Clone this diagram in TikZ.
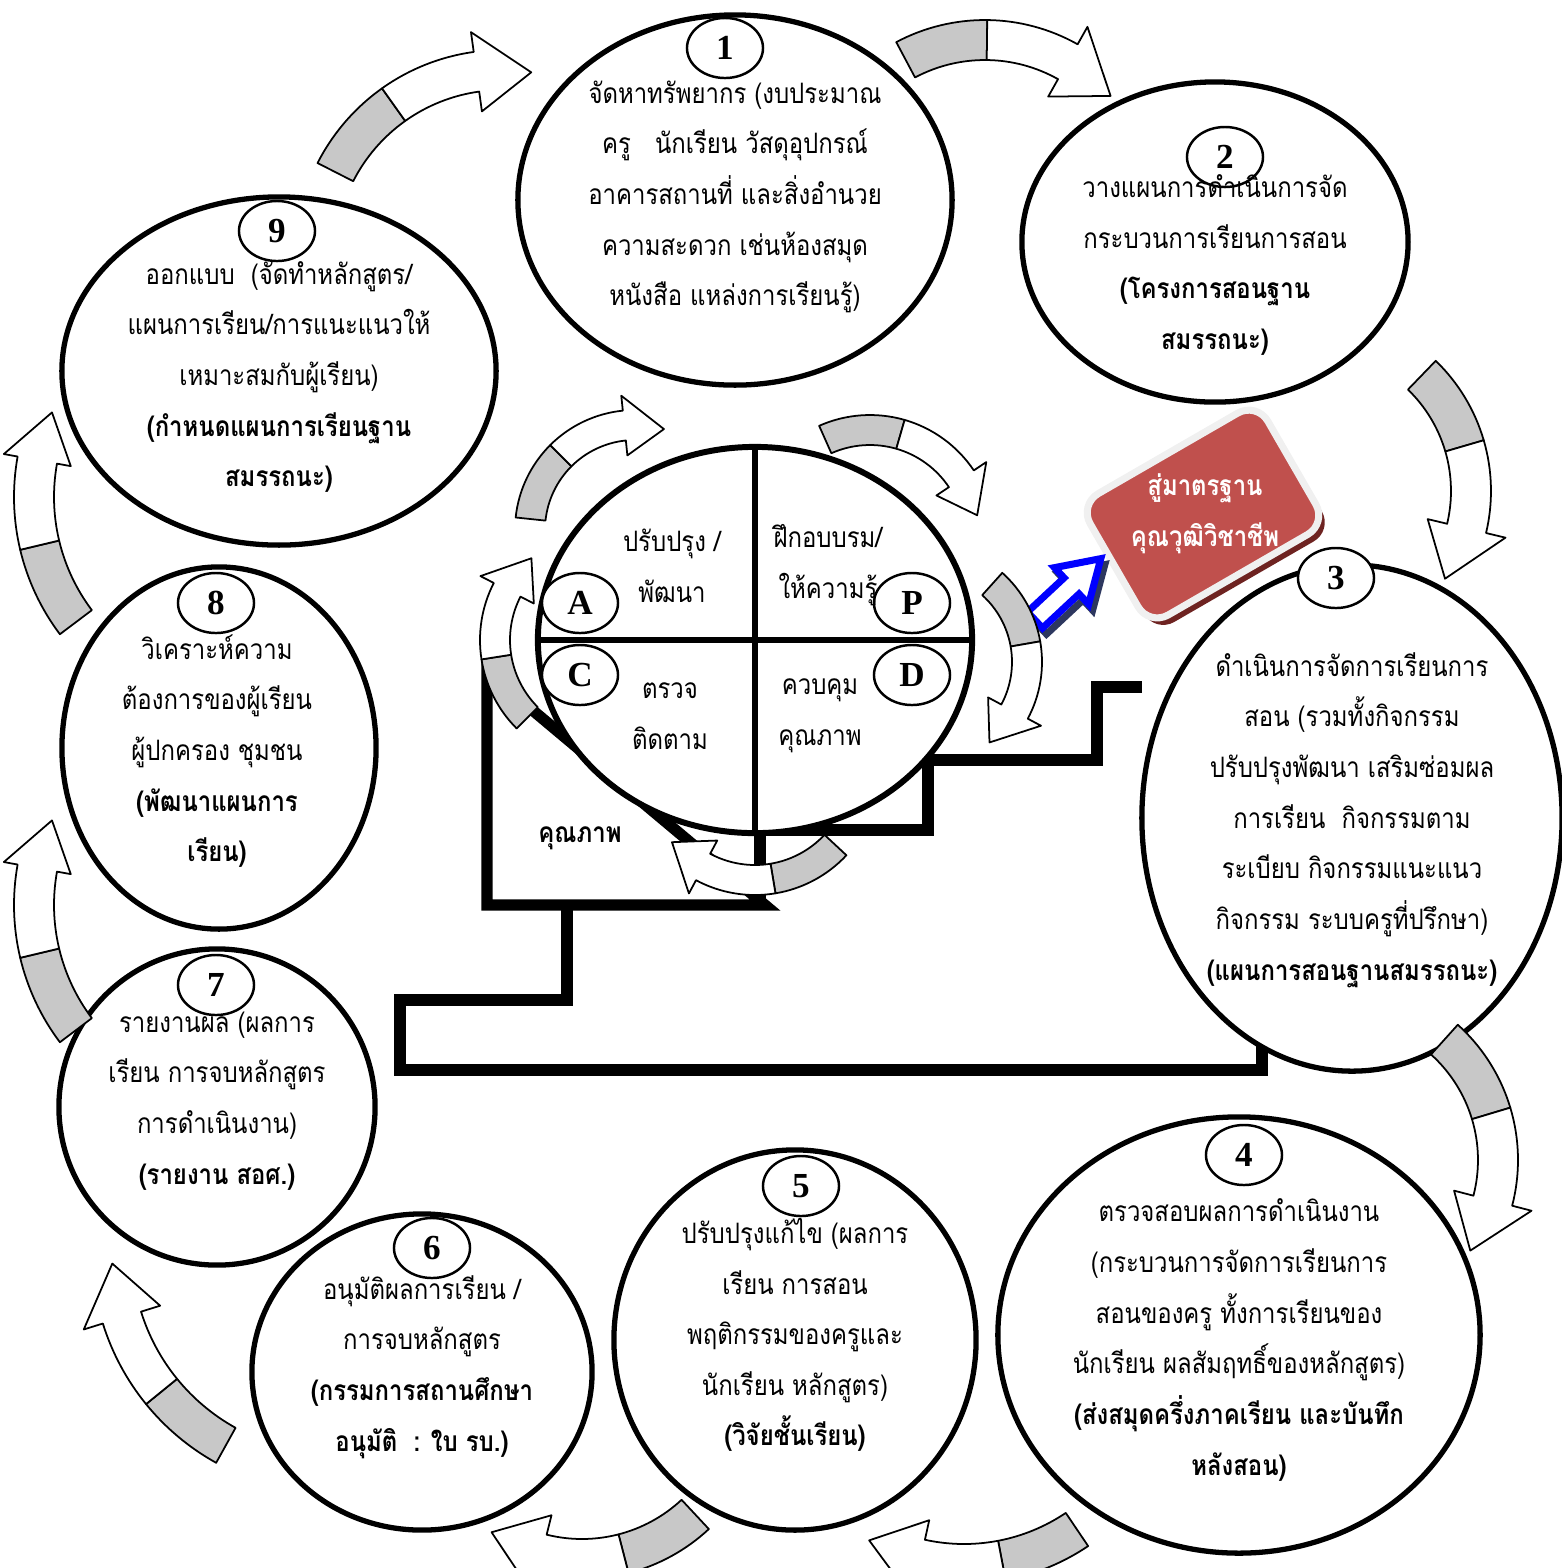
\documentclass[tikz,border=0pt]{standalone}
\usepackage{fontspec}
\setmainfont{Liberation Serif}
\newfontfamily\thai[Script=Thai,FakeStretch=0.85]{Loma}
\usetikzlibrary{shapes.geometric,shadows}

\definecolor{arrowgray}{RGB}{200,200,200}
\definecolor{goalred}{RGB}{192,80,77}
\definecolor{goalshade}{RGB}{110,35,33}
\definecolor{arrowblue}{RGB}{0,0,255}
\definecolor{arrowshade}{RGB}{45,55,95}

\tikzset{
  ring/.style={draw, ellipse, line width=1.5pt, fill=white, inner sep=0pt},
  numring/.style={draw, ellipse, line width=0.7pt, fill=white, inner sep=0pt,
    minimum width=0.76cm, minimum height=0.6cm, font=\bfseries\fontsize{10}{10}\selectfont},
  txt/.style={align=center, inner sep=0pt, font=\thai\fontsize{8}{14.4}\selectfont},
  stair/.style={line width=3.2pt},
  band/.style={fill=arrowgray, draw=black, line width=0.5pt, line join=round},
  bandhead/.style={fill=white, draw=black, line width=0.5pt, line join=round},
  goalbox/.style={rectangle, rounded corners=0.22cm, fill=goalred, draw=gray!12, line width=2pt,
    minimum width=2.05cm, minimum height=1.40cm,
    drop shadow={shadow xshift=0.6mm, shadow yshift=-0.7mm, fill=goalshade, opacity=1}}
}

% curved block arrow: centre x, centre y (px), radius, start, end, half band, half head, head length
\newcommand{\curvarrow}[8]{%
  \pgfmathsetmacro\arrS{(#5>#4)?1:-1}%
  \pgfmathsetmacro\arrB{#5-\arrS*#8/#3*57.3}%
  \pgfmathsetmacro\arrM{(#4+\arrB)/2}%
  \pgfmathsetmacro\arrO{#3+#6}\pgfmathsetmacro\arrI{#3-#6}%
  \pgfmathsetmacro\arrHO{#3+#7}\pgfmathsetmacro\arrHI{#3-#7}%
  \begin{scope}[shift={(#1,-#2)}]
    \filldraw[band] (#4:\arrO) arc[start angle=#4, end angle=\arrM, radius=\arrO]
      -- (\arrM:\arrI) arc[start angle=\arrM, end angle=#4, radius=\arrI] -- cycle;
    \filldraw[bandhead] (\arrM:\arrO) arc[start angle=\arrM, end angle=\arrB, radius=\arrO]
      -- (\arrB:\arrHO) -- (#5:#3) -- (\arrB:\arrHI) -- (\arrB:\arrI)
      arc[start angle=\arrB, end angle=\arrM, radius=\arrI] -- cycle;
  \end{scope}}

\begin{document}
\begin{tikzpicture}[x=0.01cm, y=0.01cm]
  \useasboundingbox (0,0) rectangle (1562,-1568);

  % quality wedge and steps
  \draw[stair] (487,-672) -- (487,-905) -- (765,-905) -- cycle;
  \draw[stair] (760,-905) -- (760,-830) -- (928,-830) -- (928,-760) -- (1097,-760) -- (1097,-687) -- (1142,-687);
  \draw[stair] (567,-905) -- (567,-1000) -- (400,-1000) -- (400,-1070) -- (1262,-1070) -- (1262,-1045);
  \node[txt, font=\thai\bfseries\fontsize{8}{14.4}\selectfont] (wedge) at (580,-838) {คุณภาพ};

  % PDCA wheel
  \node[ring, line width=1.7pt, minimum width=4.34cm, minimum height=3.86cm] (wheel) at (755,-640) {};
  \draw[line width=1.7pt] (wheel.north) -- (wheel.south);
  \draw[line width=1.7pt] (wheel.west) -- (wheel.east);
  \node[numring] (la) at (580,-603) {A};
  \node[numring] (lp) at (912,-603) {P};
  \node[numring] (lc) at (580,-675) {C};
  \node[numring] (ld) at (912,-675) {D};
  \node[txt] (qa) at (672,-566) {ปรับปรุง /\\พัฒนา};
  \node[txt] (qp) at (828,-565) {ฝึกอบบรม/\\ให้ความรู้};
  \node[txt] (qc) at (670,-716) {ตรวจ\\ติดตาม};
  \node[txt] (qd) at (820,-716) {ควบคุม\\คุณภาพ};

  % the nine steps
  \node[ring, minimum width=4.34cm, minimum height=3.70cm] (s1) at (735,-200) {};
  \node[ring, minimum width=3.86cm, minimum height=3.20cm] (s2) at (1215,-242) {};
  \node[ring, minimum width=4.20cm, minimum height=5.06cm] (s3) at (1352,-818) {};
  \node[ring, minimum width=4.82cm, minimum height=4.36cm] (s4) at (1239,-1335) {};
  \node[ring, minimum width=3.62cm, minimum height=3.80cm] (s5) at (795,-1340) {};
  \node[ring, minimum width=3.40cm, minimum height=3.16cm] (s6) at (422,-1372) {};
  \node[ring, minimum width=3.16cm, minimum height=3.16cm] (s7) at (217,-1107) {};
  \node[ring, minimum width=3.14cm, minimum height=3.62cm] (s8) at (219,-748) {};
  \node[ring, minimum width=4.34cm, minimum height=3.48cm] (s9) at (279,-371) {};

  \node[numring] (n1) at (725,-48) {1};
  \node[numring] (n2) at (1225,-157) {2};
  \node[numring] (n3) at (1336,-578) {3};
  \node[numring] (n4) at (1244,-1155) {4};
  \node[numring] (n5) at (801,-1186) {5};
  \node[numring] (n6) at (432,-1248) {6};
  \node[numring] (n7) at (216,-985) {7};
  \node[numring] (n8) at (216,-603) {8};
  \node[numring] (n9) at (277,-231) {9};

  \node[txt] (t1) at (735,-197) {จัดหาทรัพยากร (งบประมาณ\\ครู\ \ \ นักเรียน วัสดุอุปกรณ์\\อาคารสถานที่ และสิ่งอำนวย\\ความสะดวก เช่นห้องสมุด\\หนังสือ แหล่งการเรียนรู้)};
  \node[txt] (t2) at (1215,-265) {วางแผนการดำเนินการจัด\\กระบวนการเรียนการสอน\\\textbf{(โครงการสอนฐาน}\\\textbf{สมรรถนะ)}};
  \node[txt] (t3) at (1352,-820) {ดำเนินการจัดการเรียนการ\\สอน (รวมทั้งกิจกรรม\\ปรับปรุงพัฒนา เสริมซ่อมผล\\การเรียน\ \ กิจกรรมตาม\\ระเบียบ กิจกรรมแนะแนว\\กิจกรรม ระบบครูที่ปรึกษา)\\\textbf{(แผนการสอนฐานสมรรถนะ)}};
  \node[txt] (t4) at (1239,-1340) {ตรวจสอบผลการดำเนินงาน\\(กระบวนการจัดการเรียนการ\\สอนของครู ทั้งการเรียนของ\\นักเรียน ผลสัมฤทธิ์ของหลักสูตร)\\\textbf{(ส่งสมุดครึ่งภาคเรียน และบันทึก}\\\textbf{หลังสอน)}};
  \node[txt] (t5) at (795,-1335) {ปรับปรุงแก้ไข (ผลการ\\เรียน การสอน\\พฤติกรรมของครูและ\\นักเรียน หลักสูตร)\\\textbf{(วิจัยชั้นเรียน)}};
  \node[txt] (t6) at (422,-1367) {อนุมัติผลการเรียน /\\การจบหลักสูตร\\\textbf{(กรรมการสถานศึกษา}\\\textbf{อนุมัติ\ \ : ใบ รบ.)}};
  \node[txt] (t7) at (217,-1101) {รายงานผล (ผลการ\\เรียน การจบหลักสูตร\\การดำเนินงาน)\\\textbf{(รายงาน สอศ.)}};
  \node[txt] (t8) at (217,-751) {วิเคราะห์ความ\\ต้องการของผู้เรียน\\ผู้ปกครอง ชุมชน\\\textbf{(พัฒนาแผนการ}\\\textbf{เรียน)}};
  \node[txt] (t9) at (279,-377) {ออกแบบ\ \ (จัดทำหลักสูตร/\\แผนการเรียน/การแนะแนวให้\\เหมาะสมกับผู้เรียน)\\\textbf{(กำหนดแผนการเรียนฐาน}\\\textbf{สมรรถนะ)}};

  % goal box and blue arrow
  \node[goalbox, rotate=30] (goal) at (1203,-514) {};
  \node[txt, text=white, font=\thai\bfseries\fontsize{8}{14.4}\selectfont] (goaltxt) at (1205,-514) {สู่มาตรฐาน\\คุณวุฒิวิชาชีพ};
  \begin{scope}[shift={(1039,-626)}, rotate=43]
    \draw[line width=2pt, arrowshade] (0,-11) -- (50,-11) -- (50,-25) -- (90,0) -- (50,25) -- (50,11) -- (0,11) -- cycle;
  \end{scope}
  \begin{scope}[shift={(1035,-620)}, rotate=43]
    \draw[line width=2pt, arrowblue, fill=white] (0,-11) -- (50,-11) -- (50,-25) -- (90,0) -- (50,25) -- (50,11) -- (0,11) -- cycle;
  \end{scope}

  % outer cycle arrows
  \curvarrow{502}{257}{187}{153}{81}{20}{40}{55}
  \curvarrow{985}{209}{169}{118}{42}{20}{40}{55}
  \curvarrow{1310}{491}{161}{46}{-33}{20}{40}{55}
  \curvarrow{1336}{1160}{162}{48}{-34}{20}{40}{55}
  \curvarrow{964}{1362}{202}{-56}{-118}{20}{40}{55}
  \curvarrow{582}{1393}{166}{-47}{-123}{20}{40}{55}
  \curvarrow{333}{1252}{221}{-119}{-177}{20}{40}{55}
  \curvarrow{242}{905}{208}{-143}{-204}{20}{34}{50}
  \curvarrow{242}{497}{208}{-143}{-204}{20}{34}{50}

  % arrows round the wheel
  \curvarrow{635}{530}{105}{174}{74}{15}{30}{40}
  \curvarrow{870}{540}{110}{114}{13}{15}{30}{40}
  \curvarrow{922}{662}{105}{48}{-50}{15}{30}{40}
  \curvarrow{755}{770}{110}{-43}{-139}{15}{30}{40}
  \curvarrow{605}{640}{110}{-135}{-228}{15}{30}{40}
\end{tikzpicture}
\end{document}
